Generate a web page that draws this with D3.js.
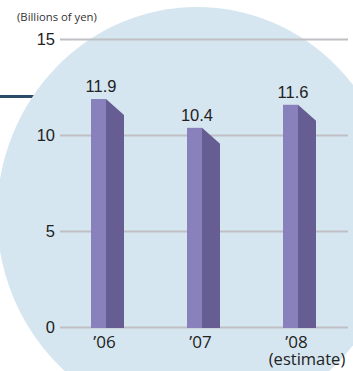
<!DOCTYPE html>
<html>
<head>
<meta charset="utf-8">
<script src="https://cdn.jsdelivr.net/npm/d3@7/dist/d3.min.js"></script>
<style>
  html, body { margin: 0; padding: 0; background: #ffffff; }
  svg { display: block; }
</style>
</head>
<body>
<svg id="chart" width="353" height="371"></svg>
<script>
// Sales figures by fiscal year, in billions of yen
const categories = ["’06", "’07", "’08"];
const values = [11.9, 10.4, 11.6];
const valueLabels = ["11.9", "10.4", "11.6"];
const subLabels = ["", "", "(estimate)"];
const yTicks = [0, 5, 10, 15];
const unitLabel = "(Billions of yen)";

const svg = d3.select("#chart");

const y = d3.scaleLinear().domain([0, 15]).range([327.5, 39.5]);
const x = d3.scaleBand().domain(categories).range([59.5, 347.5]).padding(0);

// decorative rule at the left edge, partly covered by the backdrop
svg.append("rect")
  .attr("x", 0).attr("y", 95).attr("width", 60).attr("height", 3)
  .attr("fill", "#2b4b68");

// pale backdrop ellipse
svg.append("ellipse")
  .attr("cx", 197).attr("cy", 215)
  .attr("rx", 200).attr("ry", 208)
  .attr("fill", "#d5e6f0");

// unit caption
svg.append("text")
  .attr("x", 17).attr("y", 21)
  .attr("font-family", "'Open Sans', 'Noto Sans', sans-serif")
  .attr("font-size", 11.3)
  .attr("fill", "#333")
  .text(unitLabel);

// horizontal grid lines and y tick labels
const grid = svg.append("g");
grid.selectAll("line")
  .data(yTicks)
  .join("line")
  .attr("x1", 60).attr("x2", 348)
  .attr("y1", d => y(d)).attr("y2", d => y(d))
  .attr("stroke", "#bfbfc4")
  .attr("stroke-width", 1.8);

grid.selectAll("text")
  .data(yTicks)
  .join("text")
  .attr("x", 55)
  .attr("y", d => y(d))
  .attr("dy", "0.36em")
  .attr("text-anchor", "end")
  .attr("font-family", "'Liberation Sans', Arial, sans-serif")
  .attr("font-size", 16.5)
  .attr("fill", "#222")
  .text(d => d);

// bars: a flat front face plus a darker bevelled side face
const frontW = 15, sideW = 18, bevel = 16;
const bars = svg.append("g")
  .selectAll("g")
  .data(values.map((v, i) => ({ cat: categories[i], v, label: valueLabels[i], sub: subLabels[i] })))
  .join("g");

bars.append("rect")
  .attr("x", d => x(d.cat) + x.bandwidth() / 2 - 16.5)
  .attr("y", d => y(d.v))
  .attr("width", frontW)
  .attr("height", d => y(0) - y(d.v) + 0.5)
  .attr("fill", "#8981bc");

bars.append("path")
  .attr("d", d => {
    const fx = x(d.cat) + x.bandwidth() / 2 - 16.5 + frontW;
    const top = y(d.v), base = y(0) + 0.5;
    return `M${fx},${top}L${fx + sideW},${top + bevel}L${fx + sideW},${base}L${fx},${base}Z`;
  })
  .attr("fill", "#665e92");

// value labels above each bar
bars.append("text")
  .attr("x", d => x(d.cat) + x.bandwidth() / 2 - 6.5)
  .attr("y", d => y(d.v) - 7)
  .attr("text-anchor", "middle")
  .attr("font-family", "'Liberation Sans', Arial, sans-serif")
  .attr("font-size", 16.5)
  .attr("fill", "#222")
  .text(d => d.label);

// category labels under the axis; a second line is added where present
const catText = bars.append("text")
  .attr("y", 348)
  .attr("text-anchor", "middle")
  .attr("font-family", "'Open Sans', 'Noto Sans', sans-serif")
  .attr("font-size", 17)
  .attr("fill", "#222");

catText.append("tspan")
  .attr("x", d => x(d.cat) + x.bandwidth() / 2 - 3)
  .text(d => d.cat);

catText.filter(d => d.sub)
  .append("tspan")
  .attr("x", d => x(d.cat) + x.bandwidth() / 2 + 7.5)
  .attr("dy", 17)
  .attr("font-size", 16.5)
  .text(d => d.sub);
</script>
</body>
</html>
